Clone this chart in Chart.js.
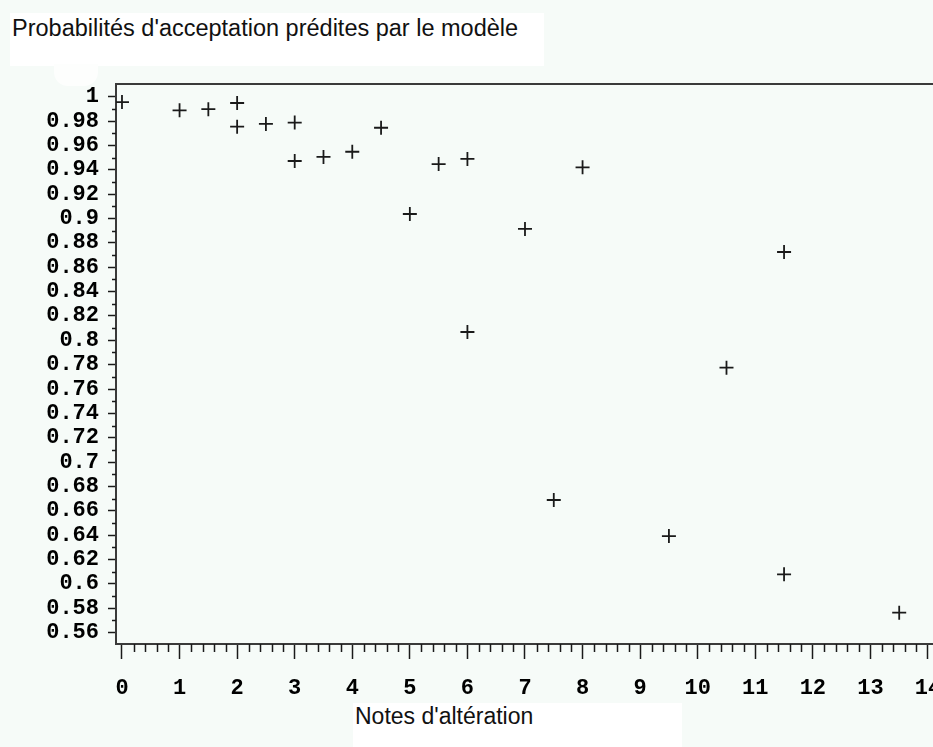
<!DOCTYPE html>
<html lang="fr">
<head>
    <meta charset="UTF-8">
    <title>Probabilités d'acceptation prédites par le modèle</title>
    <script src="https://cdn.jsdelivr.net/npm/chart.js"></script>
    <style>
        html, body { margin: 0; padding: 0; background: #f6fbf8; }
        .wrap { position: relative; width: 933px; height: 747px; overflow: hidden; }
        canvas { position: absolute; left: 0; top: 0; }
        .box {
            position: absolute;
            box-sizing: border-box;
            background: #ffffff;
            font-family: Arial, "Liberation Sans", sans-serif;
            font-size: 23px;
            line-height: 23px;
            color: #111;
            white-space: nowrap;
        }
        #title { left: 10px; top: 13px; width: 534px; height: 53px; padding: 4px 0 0 2px; font-size: 23.5px; }
        #blob { position: absolute; left: 54px; top: 64px; width: 44px; height: 22px; background: #fdfefd; border-radius: 0 0 14px 14px; }
        #xtitle { left: 353px; top: 703px; width: 329px; height: 44px; padding: 2px 0 0 2px; }
    </style>
</head>
<body>
    <div class="wrap">
        <canvas id="chart" width="933" height="747"></canvas>
        <div class="box" id="title">Probabilités d'acceptation prédites par le modèle</div>
        <div id="blob"></div>
        <div class="box" id="xtitle">Notes d'altération</div>
    </div>

    <script>
        // Notes d'altération (x) et probabilités prédites (y)
        const notes = [0, 1, 1.5, 2, 2, 2.5, 3, 3, 3.5, 4, 4.5, 5, 5.5, 6, 6, 7, 7.5, 8, 9.5, 10.5, 11.5, 11.5, 13.5];
        const probas = [0.9956, 0.9888, 0.9897, 0.9948, 0.9754, 0.9776, 0.9787, 0.9472, 0.9505, 0.9548, 0.9745, 0.9037,
                        0.9447, 0.9489, 0.8068, 0.8914, 0.6689, 0.942, 0.6393, 0.7775, 0.8725, 0.6079, 0.5764];

        const xTicks = [0, 1, 2, 3, 4, 5, 6, 7, 8, 9, 10, 11, 12, 13, 14];
        const xTickLabels = ['0', '1', '2', '3', '4', '5', '6', '7', '8', '9', '10', '11', '12', '13', '14'];
        const yTicks = [0.56, 0.58, 0.6, 0.62, 0.64, 0.66, 0.68, 0.7, 0.72, 0.74, 0.76, 0.78,
                        0.8, 0.82, 0.84, 0.86, 0.88, 0.9, 0.92, 0.94, 0.96, 0.98, 1];
        const yTickLabels = ['0.56', '0.58', '0.6', '0.62', '0.64', '0.66', '0.68', '0.7', '0.72', '0.74', '0.76', '0.78',
                             '0.8', '0.82', '0.84', '0.86', '0.88', '0.9', '0.92', '0.94', '0.96', '0.98', '1'];

        const tickFont = { family: '"Liberation Mono", "DejaVu Sans Mono", monospace', size: 22, weight: 'bold' };
        const ink = '#1a1a1a';

        // minor ticks + top frame line
        const minorTicks = {
            id: 'minorTicks',
            afterDraw(chart) {
                const { ctx, chartArea } = chart;
                const x = chart.scales.x, y = chart.scales.y;
                ctx.save();
                ctx.strokeStyle = ink;
                ctx.lineWidth = 1.5;
                ctx.beginPath();
                for (let i = 0; i < xTicks.length - 1; i++) {
                    for (let k = 1; k < 5; k++) {
                        const px = Math.round(x.getPixelForValue(xTicks[i] + k * 0.2)) + 0.5;
                        ctx.moveTo(px, chartArea.bottom);
                        ctx.lineTo(px, chartArea.bottom + 8);
                    }
                }
                for (let i = 0; i < yTicks.length - 1; i++) {
                    const py = Math.round(y.getPixelForValue((yTicks[i] + yTicks[i + 1]) / 2)) + 0.5;
                    ctx.moveTo(chartArea.left - 4, py);
                    ctx.lineTo(chartArea.left, py);
                }
                ctx.stroke();
                ctx.strokeStyle = '#3a3a3a';
                ctx.lineWidth = 2;
                ctx.beginPath();
                ctx.moveTo(chartArea.left, chartArea.top);
                ctx.lineTo(chart.width, chartArea.top);
                ctx.stroke();
                ctx.restore();
            }
        };

        new Chart(document.getElementById('chart'), {
            type: 'scatter',
            data: {
                datasets: [{
                    data: notes.map((n, i) => ({ x: n, y: probas[i] })),
                    pointStyle: 'cross',
                    radius: 7,
                    borderWidth: 1.8,
                    borderColor: ink,
                    backgroundColor: ink
                }]
            },
            options: {
                responsive: false,
                animation: false,
                devicePixelRatio: 1,
                layout: { autoPadding: false, padding: { top: 84, left: 0, right: 0, bottom: 0 } },
                plugins: {
                    legend: { display: false },
                    tooltip: { enabled: false }
                },
                scales: {
                    x: {
                        type: 'linear',
                        min: -0.104,
                        max: 14.087,
                        afterBuildTicks: (scale) => { scale.ticks = xTicks.map(v => ({ value: v })); },
                        afterFit: (scale) => { scale.height = 103; scale.paddingLeft = 0; scale.paddingRight = 0; },
                        ticks: {
                            callback: (v, i) => xTickLabels[i],
                            font: tickFont,
                            color: '#000',
                            padding: 16,
                            autoSkip: false,
                            maxRotation: 0
                        },
                        grid: { drawOnChartArea: false, tickLength: 15, tickColor: ink, tickWidth: 1.5 },
                        border: { color: '#3a3a3a', width: 2 }
                    },
                    y: {
                        type: 'linear',
                        min: 0.5507,
                        max: 1.0104,
                        afterBuildTicks: (scale) => { scale.ticks = yTicks.map(v => ({ value: v })); },
                        afterFit: (scale) => { scale.width = 116; scale.paddingTop = 0; scale.paddingBottom = 0; },
                        ticks: {
                            callback: (v, i) => yTickLabels[i],
                            font: tickFont,
                            color: '#000',
                            padding: 9,
                            autoSkip: false
                        },
                        grid: { drawOnChartArea: false, tickLength: 8, tickColor: ink, tickWidth: 1.5 },
                        border: { color: '#3a3a3a', width: 2 }
                    }
                }
            },
            plugins: [minorTicks]
        });
    </script>
</body>
</html>
